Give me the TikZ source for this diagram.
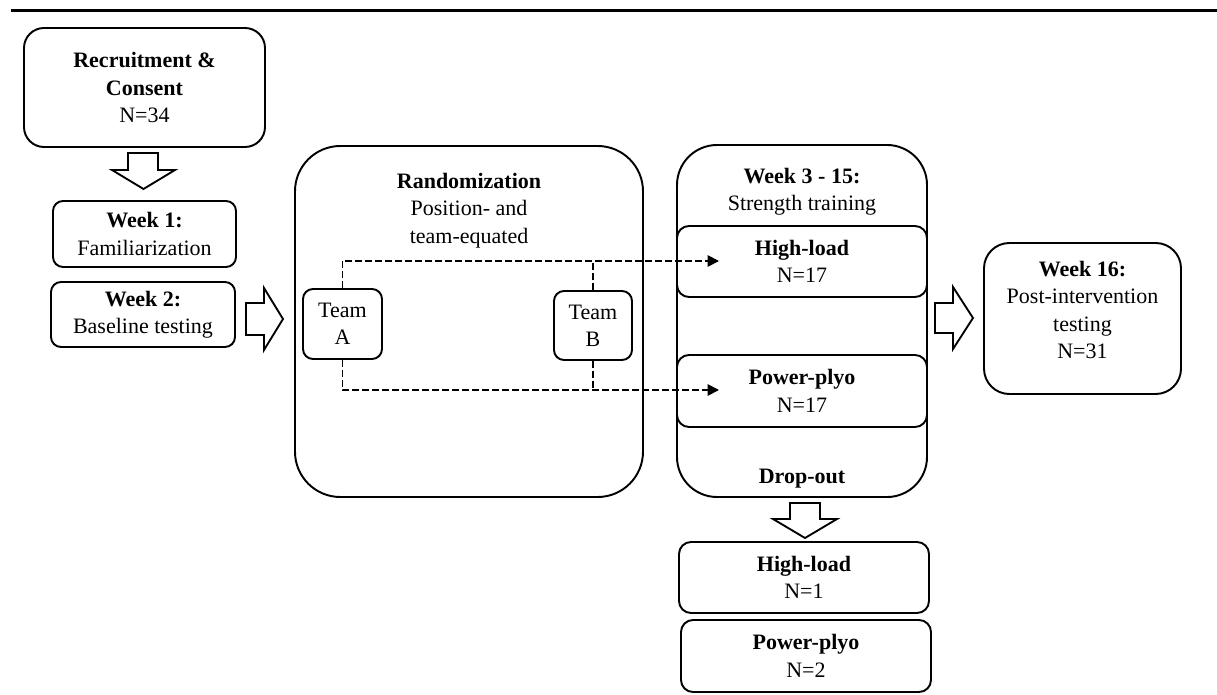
\documentclass[tikz,border=0pt]{standalone}
\usepackage{fontspec}
\setmainfont{Liberation Serif}
\usetikzlibrary{arrows.meta}
\def\PX{*0.75pt}
\begin{document}
\begin{tikzpicture}[x=0.75pt,y=-0.75pt,
  every node/.style={font={\fontsize{16.5}{20.5}\selectfont}, align=center},
  box/.style={draw, line width=1.45pt, fill=white, inner sep=0pt, rounded corners=#1},
  box/.default=9pt,
  dline/.style={line width=1.35pt, dash pattern=on 5pt off 2.5pt},
  darrow/.style={dline, -{Triangle[length=8.5pt,width=8.5pt]}},
  blk/.style={draw, line width=1.4pt, fill=white, line join=miter},
  rule/.style={line width=2.25pt}]
\useasboundingbox (0,0) rectangle (1217,695);
\draw[rule] (11,11) -- (1217,11);

% left column
\node[box=15pt, minimum width=241\PX, minimum height=119\PX] (rec) at (144.5,87.5)
  {\textbf{Recruitment \&}\\\textbf{Consent}\\N=34};
\node[box=7.5pt, minimum width=183\PX, minimum height=66\PX] (w1) at (144.5,234)
  {\textbf{Week 1:}\\Familiarization};
\node[box=7.5pt, minimum width=184\PX, minimum height=65\PX] (w2) at (143,314.5)
  {\textbf{Week 2:}\\Baseline testing};

% randomization
\node[box=34pt, minimum width=348\PX, minimum height=351\PX] (rand) at (469,321.5) {};
\node[anchor=north, inner sep=0pt] (randt) at (469,173)
  {\textbf{Randomization}\\Position- and\\team-equated};
\node[box=7.5pt, minimum width=79\PX, minimum height=70\PX] (teamA) at (342.5,324) {Team\\A};
\node[box=7.5pt, minimum width=78\PX, minimum height=69\PX] (teamB) at (593,325.5) {Team\\B};

% training
\node[box=30pt, minimum width=250\PX, minimum height=352\PX] (tr) at (802,321) {};
\node[anchor=north, inner sep=0pt] (trt) at (802,168)
  {\textbf{Week 3 - 15:}\\Strength training};
\node[box=9pt, minimum width=250\PX, minimum height=71\PX] (hl) at (802,261.5)
  {\textbf{High-load}\\N=17};
\node[box=9pt, minimum width=250\PX, minimum height=72\PX] (pp) at (802,391)
  {\textbf{Power-plyo}\\N=17};
\node[anchor=base, inner sep=0pt] (drop) at (802,483) {\textbf{Drop-out}};

% drop-out boxes
\node[box=9pt, minimum width=250\PX, minimum height=71\PX] (dhl) at (804,577.5)
  {\textbf{High-load}\\N=1};
\node[box=9pt, minimum width=250\PX, minimum height=72\PX] (dpp) at (806,656)
  {\textbf{Power-plyo}\\N=2};

% week 16
\node[box=19pt, minimum width=197\PX, minimum height=151\PX] (w16) at (1082.5,318.5) {};
\node[anchor=north, inner sep=0pt] (w16t) at (1082.5,261)
  {\textbf{Week 16:}\\Post-intervention\\testing\\N=31};

% block arrows
\draw[blk] (128,153) -- (158,153) -- (158,170) -- (175,170) -- (143.5,189) -- (112,170) -- (128,170) -- cycle;
\draw[blk] (246,303) -- (264,303) -- (264,288) -- (283,319) -- (264,350) -- (264,335) -- (246,335) -- cycle;
\draw[blk] (790,503) -- (820,503) -- (820,519) -- (837,519) -- (805,538) -- (773,519) -- (790,519) -- cycle;
\draw[blk] (935,303) -- (953,303) -- (953,287) -- (973,318) -- (953,349) -- (953,333) -- (935,333) -- cycle;

% dashed connectors
\coordinate (hlin) at (719,261);
\coordinate (ppin) at (719,390);
\draw[darrow] (teamA.north) |- (hlin);
\draw[dline] (teamB.north) -- (teamB.north |- hlin);
\draw[darrow] (teamA.south) |- (ppin);
\draw[dline] (teamB.south) -- (teamB.south |- ppin);
\end{tikzpicture}
\end{document}
